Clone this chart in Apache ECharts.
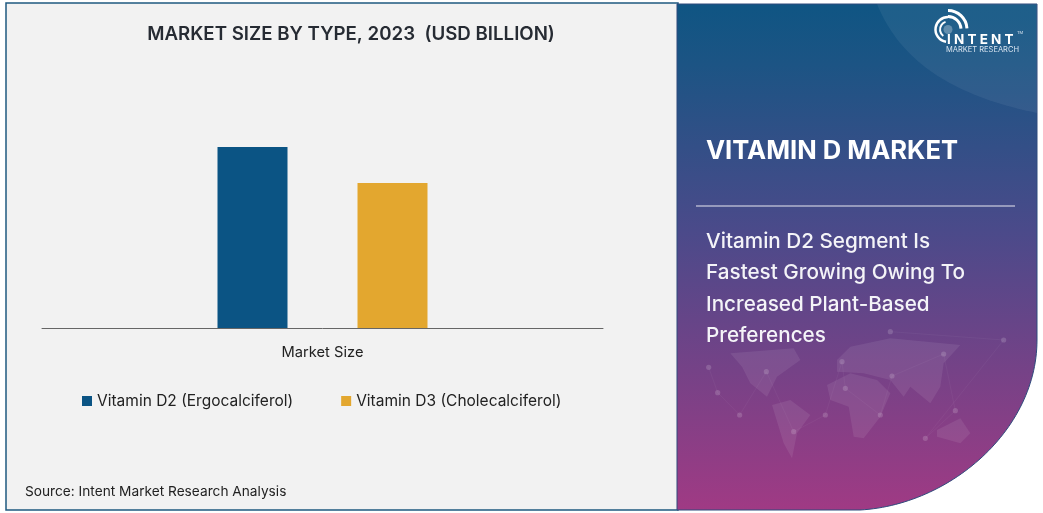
<!DOCTYPE html>
<html><head><meta charset="utf-8">
<style>html,body{margin:0;padding:0;background:#fff}#c{width:1043px;height:513px}</style>
<script src="https://cdn.jsdelivr.net/npm/echarts@6/dist/echarts.min.js"></script></head>
<body><div id="c"></div>
<script>
var categories = ['Market Size'];
var seriesNames = ['Vitamin D2 (Ergocalciferol)', 'Vitamin D3 (Cholecalciferol)'];
var d2Values = [181];
var d3Values = [145];
var headline = ['Vitamin D2 Segment Is', 'Fastest Growing Owing To', 'Increased Plant-Based', 'Preferences'];
var FONT = 'Inter';
var chart = echarts.init(document.getElementById('c'), null, {renderer: 'canvas'});
function bez(p0,p1,p2,p3,n){var r=[];for(var i=0;i<=n;i++){var t=i/n,u=1-t;
  r.push([u*u*u*p0[0]+3*u*u*t*p1[0]+3*u*t*t*p2[0]+t*t*t*p3[0],u*u*u*p0[1]+3*u*u*t*p1[1]+3*u*t*t*p2[1]+t*t*t*p3[1]]);}return r;}
var panelPts=[[677,4],[1037,4]].concat(bez([1037,340],[1037,430],[950,505],[860,510],60)).concat([[677,510]]);
var cornerPts=bez([877,4],[900,60],[950,95],[1037,113],40).concat([[1037,4]]);
function m(pts){return pts.map(function(p){return [677+p[0]/3,330+p[1]/3];});}
var continents=[
 [[160,70],[350,55],[370,90],[300,140],[270,200],[220,160],[195,110]],
 [[285,225],[340,210],[400,255],[360,310],[345,385],[320,340]],
 [[450,165],[520,130],[600,150],[640,190],[610,260],[560,325],[530,320],[515,230],[460,210]],
 [[480,90],[520,50],[640,25],[850,45],[800,100],[790,170],[760,220],[700,170],[680,200],[640,150],[560,130],[480,125]],
 [[780,300],[850,265],[880,310],[850,340],[780,320]]
];
var nodes=[[95,112],[122,188],[188,255],[268,125],[350,305],[445,255],[495,95],[505,175],[610,255],[645,138],[800,72],[835,242],[745,325],[980,30],[640,5]];
var graphic=[
  {type:'rect', z:-10, shape:{x:6,y:3,width:672,height:507}, style:{fill:'#f2f2f2', stroke:'#1f5a80', lineWidth:1.5}},
  {type:'polygon', z:-9, shape:{points:panelPts},
    style:{fill:new echarts.graphic.LinearGradient(0,0,0,1,[{offset:0,color:'#0f5583'},{offset:0.12,color:'#1c5484'},{offset:0.45,color:'#4b4a8a'},{offset:1,color:'#a03a84'}]), stroke:'#2e4a7c', lineWidth:1}},
  {type:'polygon', z:-8, shape:{points:cornerPts}, style:{fill:'rgba(255,255,255,0.06)'}},
  {type:'text', style:{text:'MARKET SIZE BY TYPE, 2023  (USD BILLION)', x:351, y:34, align:'center', verticalAlign:'middle', font:'600 18.7px '+FONT, fill:'#262b33'}},
  {type:'text', style:{text:'Source: Intent Market Research Analysis', x:25, y:492, verticalAlign:'middle', font:'13.7px '+FONT, fill:'#222'}},
  {type:'text', style:{text:'VITAMIN D MARKET', x:706, y:151.5, verticalAlign:'middle', font:'700 25.6px '+FONT, fill:'#fff'}},
  {type:'line', shape:{x1:696,y1:206,x2:1015,y2:206}, style:{stroke:'#e8e8f0', lineWidth:1}},
  {type:'arc', shape:{cx:948,cy:29.5,r:19,startAngle:-Math.PI*0.5,endAngle:-Math.PI*0.02}, style:{stroke:'#fff',lineWidth:3,fill:'none'}},
  {type:'arc', shape:{cx:948,cy:29.5,r:13,startAngle:-Math.PI*0.5,endAngle:-Math.PI*0.02}, style:{stroke:'#fff',lineWidth:3,fill:'none'}},
  {type:'arc', shape:{cx:948,cy:29.5,r:12.5,startAngle:Math.PI*0.55,endAngle:Math.PI*1.5}, style:{stroke:'#fff',lineWidth:2.5,fill:'none'}},
  {type:'arc', shape:{cx:948,cy:29.5,r:8,startAngle:Math.PI*0.7,endAngle:Math.PI*1.4}, style:{stroke:'#fff',lineWidth:2,fill:'none'}},
  {type:'circle', shape:{cx:948,cy:29.5,r:4.5}, style:{fill:'rgba(255,255,255,0.3)'}},
  {type:'text', style:{text:'I N T E N T', x:947, y:40, verticalAlign:'middle', font:'700 13.5px '+FONT, fill:'#fff'}},
  {type:'text', style:{text:'MARKET RESEARCH', x:946, y:50, verticalAlign:'middle', font:'7.5px '+FONT, fill:'#d8e4f0'}},
  {type:'text', style:{text:'TM', x:1017, y:33, verticalAlign:'middle', font:'4px '+FONT, fill:'#d8e4f0'}}
];
continents.forEach(function(c){graphic.push({type:'polygon',z:-7,shape:{points:m(c)},style:{fill:'rgba(255,255,255,0.08)'}});});
m(nodes).forEach(function(p,i,a){
  graphic.push({type:'circle',z:-7,shape:{cx:p[0],cy:p[1],r:2.6},style:{fill:'rgba(255,255,255,0.16)'}});
  if(i<a.length-1) graphic.push({type:'line',z:-7,shape:{x1:p[0],y1:p[1],x2:a[i+1][0],y2:a[i+1][1]},style:{stroke:'rgba(255,255,255,0.07)',lineWidth:0.6}});
});
headline.forEach(function(t,i){
  graphic.push({type:'text', style:{text:t, x:706, y:242+i*31.2, verticalAlign:'middle', font:'500 20.7px '+FONT, fill:'#f4f4f8'}});
});
chart.setOption({
  animation:false,
  graphic:graphic,
  legend:{left:82, top:393, padding:0, itemWidth:10, itemHeight:10, itemGap:48, icon:'rect',
    textStyle:{fontFamily:FONT, fontSize:15.5, color:'#222'}},
  grid:{left:42, right:440, top:100, bottom:185},
  xAxis:{type:'category', data:categories, axisTick:{show:false},
    axisLine:{lineStyle:{color:'#666', width:1}},
    axisLabel:{fontFamily:FONT, fontSize:14.7, color:'#222', margin:17}},
  yAxis:{type:'value', min:0, max:228, show:false, splitLine:{show:false}},
  series:[
    {name:seriesNames[0], type:'bar', data:d2Values, barWidth:70, barGap:'100%', itemStyle:{color:'#0b5484'}},
    {name:seriesNames[1], type:'bar', data:d3Values, barWidth:70, itemStyle:{color:'#e3a72f'}}
  ]
});
</script></body></html>
